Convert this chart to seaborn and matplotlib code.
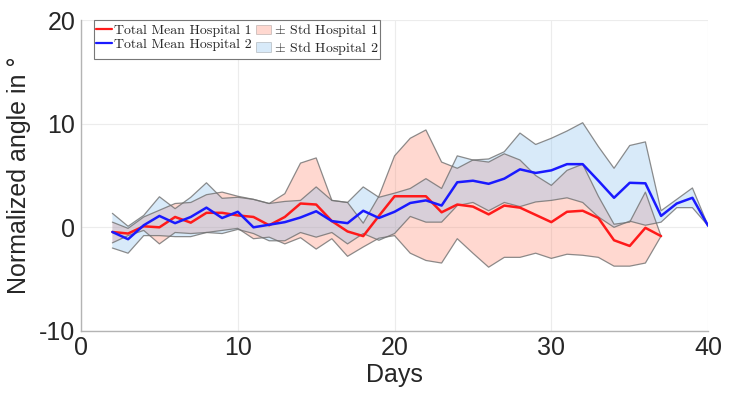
import numpy as np
import pandas as pd
import matplotlib
matplotlib.use('Agg')
import matplotlib.pyplot as plt
import seaborn as sns
from matplotlib.patches import Patch
from matplotlib.lines import Line2D

# days for each hospital
days_h1 = list(range(2, 38))
days_h2 = list(range(2, 41))

# mean curves
mean_h1 = [-0.45, -0.6, 0.1, 0.0, 1.0, 0.45, 1.4, 1.4, 1.15, 1.0, 0.2, 1.0, 2.3, 2.2,
           0.6, -0.4, -0.85, 1.1, 3.0, 3.0, 3.0, 1.45, 2.2, 2.0, 1.25, 2.1, 1.9, 1.2,
           0.5, 1.5, 1.6, 0.9, -1.25, -1.8, -0.05, -0.85]
mean_h2 = [-0.45, -1.15, 0.2, 1.1, 0.4, 1.0, 1.9, 0.9, 1.5, 0.0, 0.25, 0.5, 0.95, 1.55,
           0.6, 0.4, 1.6, 0.9, 1.5, 2.35, 2.6, 2.1, 4.35, 4.5, 4.2, 4.7, 5.6, 5.25,
           5.5, 6.1, 6.1, 4.5, 2.85, 4.3, 4.25, 1.1, 2.3, 2.85, 0.15]

# upper / lower edges of the +- std bands
upper_h1 = [0.5, -0.1, 1.0, 1.65, 2.3, 2.4, 3.15, 3.4, 3.0, 2.7, 2.3, 3.25, 6.2, 6.7,
            2.6, 2.4, 0.4, 3.0, 6.9, 8.6, 9.4, 6.3, 5.7, 6.5, 6.3, 7.1, 6.5, 5.0,
            4.05, 5.5, 6.1, 3.0, 0.3, 0.5, 3.4, -0.85]
lower_h1 = [-1.5, -0.8, -0.3, -1.6, -0.5, -0.6, -0.5, -0.3, -0.1, -1.1, -0.95, -1.6,
            -1.0, -2.1, -1.1, -2.8, -1.9, -1.05, -0.8, -2.5, -3.2, -3.45, -1.1, -2.5,
            -3.85, -2.9, -2.9, -2.5, -3.0, -2.6, -2.7, -2.9, -3.75, -3.75, -3.45, -0.85]
upper_h2 = [1.35, 0.1, 1.15, 2.95, 1.8, 2.9, 4.3, 2.8, 2.9, 2.7, 2.3, 2.5, 2.6, 3.9,
            2.6, 2.4, 3.9, 2.9, 3.3, 3.75, 4.7, 3.75, 6.9, 6.5, 6.6, 7.3, 9.1, 8.0,
            8.6, 9.3, 10.1, 7.8, 5.7, 7.9, 8.25, 1.6, 2.7, 3.8, 0.15]
lower_h2 = [-2.0, -2.5, -0.8, -0.8, -0.9, -0.9, -0.5, -0.6, -0.2, -0.6, -1.3, -1.3,
            -0.5, -0.95, -0.5, -1.6, -0.6, -1.25, -0.6, 1.05, 0.5, 0.5, 2.1, 2.4, 1.6,
            2.4, 2.0, 2.45, 2.6, 2.85, 2.4, 1.0, 0.0, 0.6, 0.2, 0.5, 1.9, 1.9, 0.15]

df = pd.concat([
    pd.DataFrame({'Days': days_h1, 'angle': mean_h1, 'hospital': 'Hospital 1'}),
    pd.DataFrame({'Days': days_h2, 'angle': mean_h2, 'hospital': 'Hospital 2'}),
])

sns.set_theme(style='whitegrid')
plt.rcParams['font.family'] = ['Liberation Sans', 'DejaVu Sans']
plt.rcParams['mathtext.fontset'] = 'cm'
plt.rcParams['axes.unicode_minus'] = False

fig, ax = plt.subplots(figsize=(7.3, 4.04), dpi=100)
fig.subplots_adjust(left=0.111, right=0.970, bottom=0.181, top=0.950)

red_fill = '#ff8066'
blue_fill = '#80bcee'

ax.fill_between(days_h1, lower_h1, upper_h1, facecolor=red_fill, alpha=0.3,
                edgecolor='none', zorder=1)
ax.fill_between(days_h2, lower_h2, upper_h2, facecolor=blue_fill, alpha=0.3,
                edgecolor='none', zorder=1)
# grey outlines of the bands
for d, lo, hi in [(days_h1, lower_h1, upper_h1), (days_h2, lower_h2, upper_h2)]:
    ax.plot(d, hi, color='#707070', lw=0.9, alpha=0.8, zorder=2)
    ax.plot(d, lo, color='#707070', lw=0.9, alpha=0.8, zorder=2)

sns.lineplot(data=df, x='Days', y='angle', hue='hospital',
             palette={'Hospital 1': '#ff1a1a', 'Hospital 2': '#1a1aff'},
             linewidth=1.8, legend=False, ax=ax, zorder=3)

ax.set_xlim(0, 40)
ax.set_ylim(-10, 20)
ax.set_xticks([0, 10, 20, 30, 40])
ax.set_yticks([-10, 0, 10, 20])
ax.set_xlabel('Days', fontsize=18, color='#262626', labelpad=2)
ax.set_ylabel('Normalized angle in °', fontsize=18, color='#262626', labelpad=6)
ax.tick_params(axis='both', labelsize=18, colors='#262626', direction='in',
               length=3, width=0.6, pad=4)
ax.tick_params(axis='both', color='#b0b0b0')

ax.grid(True, color='#ececec', linewidth=0.8)
for side in ['top', 'right']:
    ax.spines[side].set_visible(False)
for side in ['left', 'bottom']:
    ax.spines[side].set_color('#b4b4b4')
    ax.spines[side].set_linewidth(1.0)

handles = [
    Line2D([], [], color='#ff1a1a', lw=1.6),
    Line2D([], [], color='#1a1aff', lw=1.6),
    Patch(facecolor=red_fill, alpha=0.3, edgecolor='#555555', linewidth=0.6),
    Patch(facecolor=blue_fill, alpha=0.3, edgecolor='#555555', linewidth=0.6),
]
labels = ['Total Mean Hospital 1', 'Total Mean Hospital 2',
          r'$\pm$ Std Hospital 1', r'$\pm$ Std Hospital 2']
leg = ax.legend(handles, labels, ncol=2, loc='upper left',
                bbox_to_anchor=(0.021, 1.0), prop={'family': 'cmr10', 'size': 10},
                frameon=True, fancybox=False, framealpha=1, borderpad=0.15,
                handlelength=1.1, handletextpad=0.2, columnspacing=0.25,
                labelspacing=0.05, borderaxespad=0.0)
leg.get_frame().set_edgecolor('#777777')
leg.get_frame().set_linewidth(0.8)
for t in leg.get_texts():
    t.set_color('#262626')

fig.savefig('out.png', dpi=100)
